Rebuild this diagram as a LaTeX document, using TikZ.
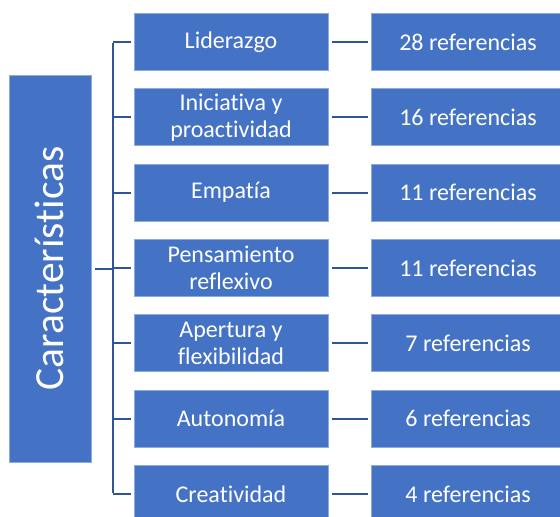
\documentclass[tikz,border=0pt]{standalone}
\usepackage{fontspec}
\setmainfont[Ligatures=NoCommon]{Carlito}
\definecolor{boxblue}{HTML}{4472C4}
\definecolor{edgeblue}{HTML}{8FAADC}
\definecolor{linkblue}{HTML}{2F5597}
\begin{document}
\begin{tikzpicture}[x=1pt,y=-1pt,
  catbox/.style={fill=boxblue,draw=edgeblue,line width=0.8pt,minimum width=194pt,minimum height=57pt,
    text=white,align=center,font=\fontsize{24}{27}\selectfont,inner sep=0pt},
  refbox/.style={catbox},
  link/.style={draw=linkblue,line width=2pt}]
\useasboundingbox (0,0) rectangle (560,517);
\clip (0,0) rectangle (560,517);
\node[fill=boxblue,draw=edgeblue,line width=0.8pt,minimum width=82pt,minimum height=387pt,inner sep=0pt] (root) at (50,268.5) {};
\node[rotate=90,text=white,font=\fontsize{41.5}{48}\selectfont] (roottext) at (49,268.5) {Características};
\foreach \i/\a/\b in {1/Liderazgo/28 referencias,
  2/{Iniciativa y\\proactividad}/16 referencias,
  3/Empatía/11 referencias,
  4/{Pensamiento\\reflexivo}/11 referencias,
  5/{Apertura y\\flexibilidad}/7 referencias,
  6/Autonomía/6 referencias,
  7/Creatividad/4 referencias}{
  \node[catbox] (m\i) at (231,{42+75.33*(\i-1)}) {\a};
  \node[refbox] (r\i) at (468,{42+75.33*(\i-1)}) {\b};
  \draw[link] ([xshift=4pt]m\i.east) -- ([xshift=-3pt]r\i.west);
  \coordinate (t\i) at (113,{42+75.33*(\i-1)});
  \draw[link] (t\i) -- ([xshift=-3pt]m\i.west);
}
\draw[link] ([yshift=-1pt]t1) -- ([yshift=1pt]t7);
\coordinate (tm) at (113,268.5);
\draw[link] ([xshift=4pt]root.east) -- (tm);
\end{tikzpicture}
\end{document}
